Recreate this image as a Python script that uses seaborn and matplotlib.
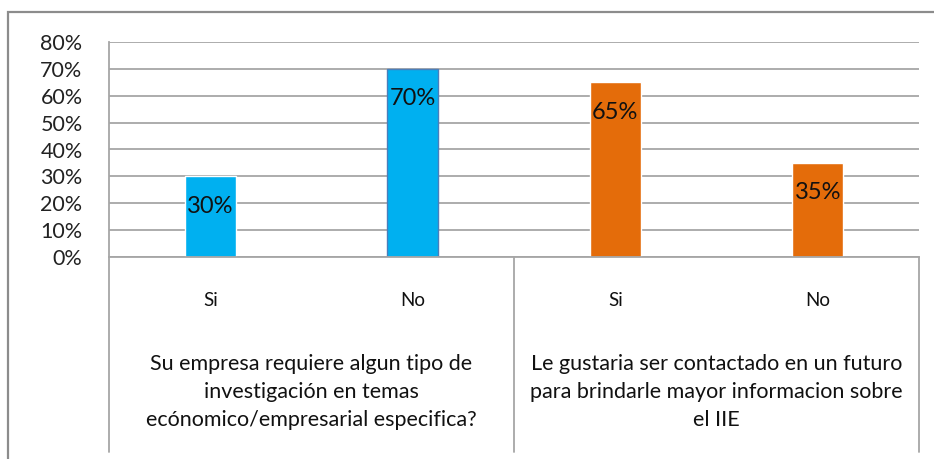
import matplotlib
matplotlib.use("Agg")
import matplotlib.pyplot as plt
import seaborn as sns
import pandas as pd
from matplotlib.patches import Rectangle
from matplotlib.lines import Line2D
from matplotlib.ticker import MultipleLocator, PercentFormatter

# data
answers = ["Si", "No", "Si", "No"]
values = [30, 70, 65, 35]
groups = ["q1", "q1", "q2", "q2"]
questions = [
    "Su empresa requiere algun tipo de\ninvestigación en temas\necónomico/empresarial especifica?",
    "Le gustaria ser contactado en un futuro\npara brindarle mayor informacion sobre\nel IIE",
]
colors = {"q1": "#00B0F0", "q2": "#E46C0A"}

sns.set_theme(style="white")
plt.rcParams["font.family"] = ["Lato", "DejaVu Sans"]

W, H = 934, 459
fig = plt.figure(figsize=(W / 100, H / 100), dpi=100)

# plot area in pixels
left, right, top, bottom = 109, 919, 42, 257
ax = fig.add_axes([left / W, 1 - bottom / H, (right - left) / W, (bottom - top) / H])

df = pd.DataFrame({"pos": range(len(values)), "value": values, "group": groups})
sns.barplot(data=df, x="pos", y="value", hue="group", palette=colors,
            dodge=False, width=0.25, legend=False, ax=ax, saturation=1)

ax.set_ylim(0, 80)
ax.set_xlim(-0.5, 3.5)
ax.yaxis.set_major_locator(MultipleLocator(10))
ax.yaxis.set_major_formatter(PercentFormatter(decimals=0))
ax.grid(axis="y", color="#A6A6A6", linewidth=1.3)
ax.set_axisbelow(True)
ax.set_xlabel("")
ax.set_ylabel("")
ax.set_xticks(range(len(answers)))
ax.set_xticklabels(answers)
ax.tick_params(axis="y", length=0, pad=19, labelsize=15.5, labelcolor="#222222")
ax.tick_params(axis="x", length=0, pad=25, labelsize=13.5, labelcolor="#111111")

for s in ["top", "right"]:
    ax.spines[s].set_visible(False)
for s in ["left", "bottom"]:
    ax.spines[s].set_color("#A6A6A6")
    ax.spines[s].set_linewidth(1.3)

# outline on the 70% bar
ax.patches[1].set_edgecolor("#4A7EBB")
ax.patches[1].set_linewidth(1.0)

# value labels, inside near the top
for i, v in enumerate(values):
    ax.annotate(f"{v}%", (i, v), xytext=(0, -30), textcoords="offset pixels",
                ha="center", va="center", fontsize=17, color="#111111")

# group separators below the axis
sep_bottom = -(452 - bottom) / (bottom - top)
for xf in [0, 0.5, 1]:
    ax.add_line(Line2D([xf, xf], [0, sep_bottom], transform=ax.transAxes,
                       color="#A6A6A6", linewidth=1.3, clip_on=False))

# question text under each pair
q_y = -(392 - bottom) / (bottom - top)
for xf, q in zip([0.25, 0.75], questions):
    ax.text(xf, q_y, q, transform=ax.transAxes, ha="center", va="center",
            fontsize=15.5, color="#111111", linespacing=1.5)

# outer chart border, running off the right and bottom edges
fig.patches.append(Rectangle((8 / W, -0.1), 1.2, 1 - 12 / H + 0.1,
                             transform=fig.transFigure, fill=False,
                             edgecolor="#8C8C8C", linewidth=1.6))

fig.savefig("out.png", dpi=100)
